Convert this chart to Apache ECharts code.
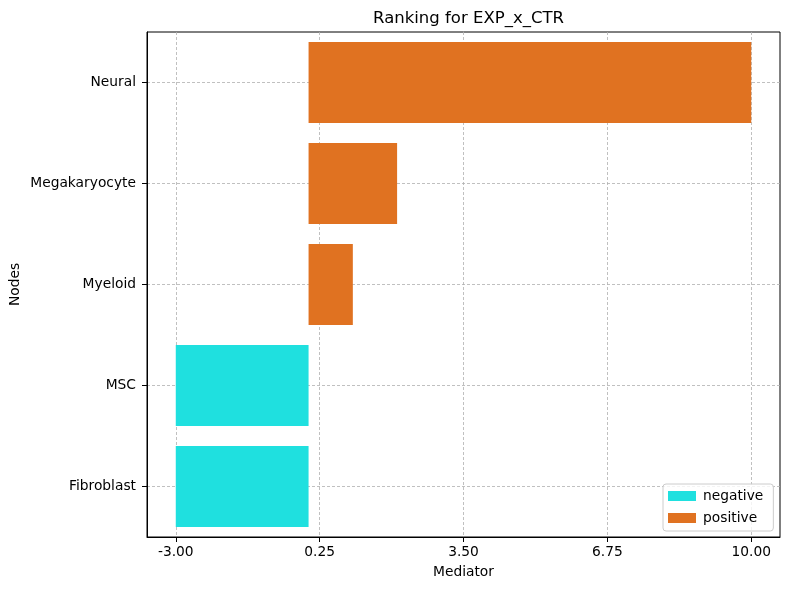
<!DOCTYPE html>
<html>
<head>
<meta charset="utf-8">
<style>
  html, body { margin: 0; padding: 0; background: #fff; }
  #chart { width: 790px; height: 590px; }
</style>
<script src="https://cdn.jsdelivr.net/npm/echarts@6/dist/echarts.min.js"></script>
</head>
<body>
<div id="chart"></div>
<script>
// categories bottom -> top
const categories = ['Fibroblast', 'MSC', 'Myeloid', 'Megakaryocyte', 'Neural']
const values = [-3, -3, 1, 2, 10]
const xTicks = [-3, 0.25, 3.5, 6.75, 10]

const negativeData = values.map(v => (v < 0 ? v : null))
const positiveData = values.map(v => (v >= 0 ? v : null))

const FONT = 'DejaVu Sans'
const chart = echarts.init(document.getElementById('chart'), null, { renderer: 'canvas' })

const option = {
  animation: false,
  backgroundColor: '#ffffff',
  title: {
    text: 'Ranking for EXP_x_CTR',
    left: 463.5,
    textAlign: 'center',
    top: 5,
    textStyle: { fontFamily: FONT, fontSize: 16.5, fontWeight: 'normal', color: '#000' }
  },
  legend: {
    orient: 'vertical',
    left: 663,
    top: 484,
    data: ['negative', 'positive'],
    icon: 'rect',
    itemWidth: 28,
    itemHeight: 10,
    itemGap: 8,
    itemStyle: { borderWidth: 0 },
    padding: [5, 10, 6, 5],
    borderColor: '#cccccc',
    borderWidth: 1,
    borderRadius: 3,
    backgroundColor: 'rgba(255,255,255,0.8)',
    textStyle: { fontFamily: FONT, fontSize: 13.8, lineHeight: 14, color: '#000', padding: [0, 0, 0, 2] }
  },
  grid: {
    left: 147,
    right: 10,
    top: 32,
    bottom: 53,
    outerBoundsMode: 'none',
    show: true,
    borderColor: '#000',
    borderWidth: 1,
    backgroundColor: 'transparent'
  },
  xAxis: {
    type: 'value',
    min: -3.65,
    max: 10.65,
    name: 'Mediator',
    nameLocation: 'middle',
    nameGap: 28,
    nameMoveOverlap: false,
    nameTextStyle: { fontFamily: FONT, fontSize: 13.8, color: '#000' },
    axisLine: { show: true, onZero: false, lineStyle: { color: '#000', width: 1 } },
    axisTick: { show: true, customValues: xTicks, length: 5, lineStyle: { color: '#000' } },
    axisLabel: {
      customValues: xTicks,
      margin: 8,
      fontFamily: FONT,
      fontSize: 13.8,
      color: '#000',
      formatter: v => Number(v).toFixed(2)
    },
    splitLine: { show: true, lineStyle: { color: '#b0b0b0', width: 0.8, type: [3, 2] } }
  },
  yAxis: {
    type: 'category',
    data: categories,
    name: 'Nodes',
    nameLocation: 'middle',
    nameGap: 125,
    nameMoveOverlap: false,
    nameTextStyle: { fontFamily: FONT, fontSize: 13.8, color: '#000' },
    axisLine: { show: true, onZero: false, lineStyle: { color: '#000', width: 1 } },
    axisTick: { show: true, alignWithLabel: true, length: 5, lineStyle: { color: '#000' } },
    axisLabel: { margin: 11, fontFamily: FONT, fontSize: 13.8, color: '#000' },
    splitLine: { show: true, alignWithLabel: true, lineStyle: { color: '#b0b0b0', width: 0.8, type: [3, 2] } }
  },
  series: [
    {
      name: 'negative',
      type: 'bar',
      data: negativeData,
      barWidth: '80%',
      barGap: '-100%',
      itemStyle: { color: '#1fe0df' }
    },
    {
      name: 'positive',
      type: 'bar',
      data: positiveData,
      barWidth: '80%',
      barGap: '-100%',
      itemStyle: { color: '#e07221' }
    }
  ]
}

chart.setOption(option)
</script>
</body>
</html>
